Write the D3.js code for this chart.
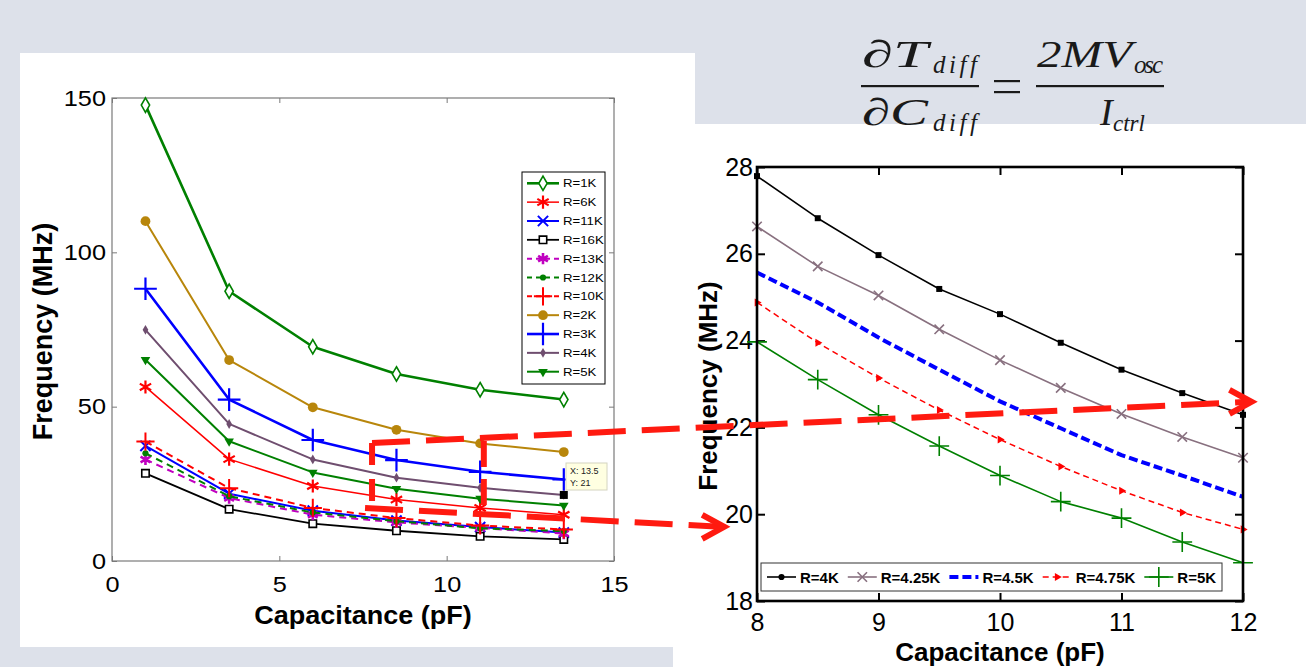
<!DOCTYPE html>
<html>
<head>
<meta charset="utf-8">
<script src="https://cdn.jsdelivr.net/npm/d3@7.9.0/dist/d3.min.js"></script>
<style>
  html, body { margin: 0; padding: 0; background: #dde1ea; }
  svg { display: block; font-family: "Liberation Sans", Arial, Helvetica, sans-serif; }
</style>
</head>
<body>
<svg id="fig" width="1306" height="667"></svg>
<script>
// === Data: left chart (frequency vs capacitance, wide range) ===
const capLeft = [1, 3.5, 6, 8.5, 11, 13.5];
const seriesLeft = ["R=1K", "R=6K", "R=11K", "R=16K", "R=13K", "R=12K", "R=10K", "R=2K", "R=3K", "R=4K", "R=5K"];
const fR1K  = [147.7, 87.4, 69.4, 60.6, 55.5, 52.3];
const fR6K  = [56.4, 33.0, 24.3, 19.9, 17.2, 15.0];
const fR11K = [37.3, 21.8, 16.3, 13.1, 11.0, 9.2];
const fR16K = [28.4, 16.8, 12.1, 9.8, 8.0, 7.0];
const fR13K = [32.9, 20.4, 15.0, 12.5, 10.7, 8.9];
const fR12K = [34.9, 21.0, 15.7, 12.9, 10.6, 9.7];
const fR10K = [38.7, 23.6, 17.2, 13.9, 11.5, 10.2];
const fR2K  = [110.1, 65.1, 49.8, 42.5, 38.1, 35.3];
const fR3K  = [88.2, 52.3, 39.2, 32.7, 28.9, 26.4];
const fR4K  = [74.9, 44.4, 32.9, 27.0, 23.7, 21.4];
const fR5K  = [65.2, 38.8, 28.7, 23.4, 20.2, 18.0];
const ticksLeftX = [0, 5, 10, 15];
const ticksLeftY = [0, 50, 100, 150];

// === Data: right chart (zoomed region) ===
const capRight = [8, 8.5, 9, 9.5, 10, 10.5, 11, 11.5, 12];
const seriesRight = ["R=4K", "R=4.25K", "R=4.5K", "R=4.75K", "R=5K"];
const gR4K   = [27.79, 26.82, 25.97, 25.19, 24.61, 23.95, 23.33, 22.79, 22.29];
const gR425K = [26.63, 25.71, 25.04, 24.26, 23.55, 22.91, 22.31, 21.78, 21.30];
const gR45K  = [25.57, 24.88, 24.07, 23.33, 22.60, 21.98, 21.36, 20.89, 20.40];
const gR475K = [24.88, 23.95, 23.14, 22.40, 21.72, 21.10, 20.54, 20.04, 19.65];
const gR5K   = [23.97, 23.10, 22.29, 21.57, 20.89, 20.29, 19.91, 19.36, 18.88];
const ticksRightX = [8, 9, 10, 11, 12];
const ticksRightY = [18, 20, 22, 24, 26, 28];

// data tip shown on the left chart
const tipX = 13.5, tipY = 21;

// zoom box on the left chart, arrow tips in right-chart units
const zoomBox = { c0: 7.77, c1: 11.11, f0: 17.2, f1: 38.2 };
const upperTip = { c: 12.07, f: 22.59 };
const lowerTip = { c: 7.73, f: 19.71 };

const valuesLeft = {
  "R=1K": fR1K, "R=6K": fR6K, "R=11K": fR11K, "R=16K": fR16K, "R=13K": fR13K, "R=12K": fR12K,
  "R=10K": fR10K, "R=2K": fR2K, "R=3K": fR3K, "R=4K": fR4K, "R=5K": fR5K
};
const valuesRight = { "R=4K": gR4K, "R=4.25K": gR425K, "R=4.5K": gR45K, "R=4.75K": gR475K, "R=5K": gR5K };

// === Styles ===
const styleLeft = {
  "R=1K":  { color: "#008000", w: 2.6, sym: d3.symbolDiamond, size: 60, fill: "#ffffff", sw: 1.6 },
  "R=6K":  { color: "#ff0000", w: 1.5, sym: d3.symbolAsterisk, size: 120, sw: 2.2 },
  "R=11K": { color: "#0000ff", w: 2, sym: d3.symbolX, size: 70, sw: 2 },
  "R=16K": { color: "#000000", w: 1.8, sym: d3.symbolSquare, size: 55, fill: "#ffffff", sw: 1.6 },
  "R=13K": { color: "#c000c0", w: 2, dash: "7,5", sym: d3.symbolAsterisk, size: 90, sw: 2.6 },
  "R=12K": { color: "#008000", w: 2, dash: "7,5", sym: d3.symbolCircle, size: 30, fill: "#008000", sw: 0 },
  "R=10K": { color: "#ff0000", w: 2, dash: "7,5", sym: d3.symbolPlus, size: 110, sw: 2 },
  "R=2K":  { color: "#b8860b", w: 2, sym: d3.symbolCircle, size: 75, fill: "#b8860b", sw: 0 },
  "R=3K":  { color: "#0000ff", w: 2.6, sym: d3.symbolPlus, size: 170, sw: 2.2 },
  "R=4K":  { color: "#6f4e6f", w: 2, sym: d3.symbolDiamond, size: 28, fill: "#6f4e6f", sw: 0 },
  "R=5K":  { color: "#008000", w: 2, sym: d3.symbolTriangle, rot: 180, size: 40, fill: "#008000", sw: 0 }
};
const styleRight = {
  "R=4K":    { color: "#000000", w: 1.6, sym: d3.symbolSquare, size: 36, fill: "#000000", sw: 0 },
  "R=4.25K": { color: "#88707f", w: 1.6, sym: d3.symbolX, size: 60, sw: 1.6 },
  "R=4.5K":  { color: "#0000ff", w: 4, dash: "9,4" },
  "R=4.75K": { color: "#ff0000", w: 1.5, dash: "6,4", sym: d3.symbolTriangle, rot: 90, size: 28, fill: "#ff0000", sw: 0 },
  "R=5K":    { color: "#008000", w: 1.6, sym: d3.symbolPlus, size: 130, sw: 1.6 }
};

const svg = d3.select("#fig");

// === Background panels ===
svg.append("rect").attr("width", 1306).attr("height", 667).attr("fill", "#dde1ea");
svg.append("rect").attr("x", 20).attr("y", 53).attr("width", 675).attr("height", 594).attr("fill", "#ffffff");
svg.append("rect").attr("x", 673).attr("y", 124).attr("width", 633).attr("height", 543).attr("fill", "#ffffff");

// stretch text horizontally (the left figure was scaled wider)
function stretch(sel, k) {
  sel.each(function() {
    const len = this.getComputedTextLength();
    d3.select(this).attr("textLength", len * k).attr("lengthAdjust", "spacingAndGlyphs");
  });
}

function marker(g, st, x, y) {
  if (!st.sym) return;
  g.append("path")
    .attr("d", d3.symbol().type(st.sym).size(st.size)())
    .attr("transform", `translate(${x},${y})` + (st.rot ? ` rotate(${st.rot})` : ""))
    .attr("fill", st.fill || "none")
    .attr("stroke", st.sw ? st.color : "none")
    .attr("stroke-width", st.sw || 0);
}

// === Left chart ===
const L = { x0: 112, x1: 614, y0: 98, y1: 561 };
const xL = d3.scaleLinear().domain([0, 15]).range([L.x0, L.x1]);
const yL = d3.scaleLinear().domain([0, 150]).range([L.y1, L.y0]);
const left = svg.append("g");

left.append("g").attr("transform", `translate(0,${L.y1})`)
  .call(d3.axisBottom(xL).tickValues(ticksLeftX).tickSize(-5).tickPadding(15));
left.append("g").attr("transform", `translate(${L.x0},0)`)
  .call(d3.axisLeft(yL).tickValues(ticksLeftY).tickSize(-5).tickPadding(6));
left.append("g").attr("transform", `translate(0,${L.y0})`)
  .call(d3.axisTop(xL).tickValues(ticksLeftX).tickSize(-5).tickFormat(""));
left.append("g").attr("transform", `translate(${L.x1},0)`)
  .call(d3.axisRight(yL).tickValues(ticksLeftY).tickSize(-5).tickFormat(""));
left.selectAll(".domain").remove();
left.selectAll(".tick line").attr("stroke", "#7a7a7a");
left.selectAll(".tick text").attr("font-size", 22).attr("fill", "#000");
stretch(left.selectAll(".tick text"), 1.15);
left.append("rect").attr("x", L.x0).attr("y", L.y0).attr("width", L.x1 - L.x0).attr("height", L.y1 - L.y0)
  .attr("fill", "none").attr("stroke", "#7a7a7a").attr("stroke-width", 1.2);

const lineL = d3.line().x((d, i) => xL(capLeft[i])).y(d => yL(d));
seriesLeft.forEach(name => {
  const st = styleLeft[name];
  const vals = valuesLeft[name];
  const g = left.append("g");
  g.append("path").attr("d", lineL(vals)).attr("fill", "none")
    .attr("stroke", st.color).attr("stroke-width", st.w)
    .attr("stroke-dasharray", st.dash || null).attr("stroke-linejoin", "round");
  vals.forEach((v, i) => marker(g, st, xL(capLeft[i]), yL(v)));
});

left.append("text").attr("x", (L.x0 + L.x1) / 2).attr("y", 624).attr("text-anchor", "middle")
  .attr("font-size", 25).attr("font-weight", "bold").text("Capacitance (pF)")
  .call(s => stretch(s, 1.08));
left.append("text").attr("transform", `translate(52,${(L.y0 + L.y1) / 2 + 2}) rotate(-90)`)
  .attr("text-anchor", "middle").attr("font-size", 27).attr("font-weight", "bold")
  .text("Frequency (MHz)");

// left legend
const legL = left.append("g");
legL.append("rect").attr("x", 522).attr("y", 172).attr("width", 83).attr("height", 212)
  .attr("fill", "#ffffff").attr("stroke", "#000").attr("stroke-width", 1);
seriesLeft.forEach((name, i) => {
  const st = styleLeft[name];
  const y = 183.3 + i * 18.84;
  legL.append("line").attr("x1", 527).attr("x2", 559).attr("y1", y).attr("y2", y)
    .attr("stroke", st.color).attr("stroke-width", st.w).attr("stroke-dasharray", st.dash ? "5,4" : null);
  marker(legL, st, 543, y);
  legL.append("text").attr("x", 563).attr("y", y + 4).attr("font-size", 11).text(name)
    .call(s => stretch(s, 1.2));
});

// data tip
const tx = xL(tipX), ty = yL(valuesLeft["R=4K"][5]);
left.append("rect").attr("x", tx - 4).attr("y", ty - 4).attr("width", 8).attr("height", 8).attr("fill", "#000");
left.append("rect").attr("x", 566).attr("y", 463).attr("width", 41).attr("height", 27)
  .attr("fill", "#ffffe1").attr("stroke", "#d4d4c0");
left.append("text").attr("x", 570).attr("y", 474).attr("font-size", 9).attr("fill", "#222").text(`X: ${tipX}`);
left.append("text").attr("x", 570).attr("y", 486).attr("font-size", 9).attr("fill", "#222").text(`Y: ${tipY}`);

// === Right chart ===
const R = { x0: 757, x1: 1243, y0: 167, y1: 601 };
const xR = d3.scaleLinear().domain([8, 12]).range([R.x0, R.x1]);
const yR = d3.scaleLinear().domain([18, 28]).range([R.y1, R.y0]);
const right = svg.append("g");

right.append("g").attr("transform", `translate(0,${R.y1})`)
  .call(d3.axisBottom(xR).tickValues(ticksRightX).tickFormat(d3.format("d")).tickSize(-8).tickPadding(12));
right.append("g").attr("transform", `translate(${R.x0},0)`)
  .call(d3.axisLeft(yR).tickValues(ticksRightY).tickFormat(d3.format("d")).tickSize(-8).tickPadding(4));
right.append("g").attr("transform", `translate(0,${R.y0})`)
  .call(d3.axisTop(xR).tickValues(ticksRightX).tickSize(-8).tickFormat(""));
right.append("g").attr("transform", `translate(${R.x1},0)`)
  .call(d3.axisRight(yR).tickValues(ticksRightY).tickSize(-8).tickFormat(""));
right.selectAll(".domain").remove();
right.selectAll(".tick line").attr("stroke", "#000").attr("stroke-width", 2);
right.selectAll(".tick text").attr("font-size", 25).attr("fill", "#000");

const lineR = d3.line().x((d, i) => xR(capRight[i])).y(d => yR(d));
seriesRight.forEach(name => {
  const st = styleRight[name];
  const vals = valuesRight[name];
  const g = right.append("g");
  g.append("path").attr("d", lineR(vals)).attr("fill", "none")
    .attr("stroke", st.color).attr("stroke-width", st.w)
    .attr("stroke-dasharray", st.dash || null).attr("stroke-linejoin", "round");
  vals.forEach((v, i) => marker(g, st, xR(capRight[i]), yR(v)));
});

right.append("rect").attr("x", R.x0).attr("y", R.y0).attr("width", R.x1 - R.x0).attr("height", R.y1 - R.y0)
  .attr("fill", "none").attr("stroke", "#000").attr("stroke-width", 2.6);

// right legend
const legR = right.append("g");
legR.append("rect").attr("x", 761).attr("y", 563).attr("width", 461).attr("height", 28)
  .attr("fill", "#ffffff").attr("stroke", "#333").attr("stroke-width", 1);
let lx = 767;
seriesRight.forEach(name => {
  const st = styleRight[name];
  const y = 577;
  legR.append("line").attr("x1", lx).attr("x2", lx + 29).attr("y1", y).attr("y2", y)
    .attr("stroke", st.color).attr("stroke-width", st.w).attr("stroke-dasharray", st.dash || null);
  const ms = name === "R=4K" ? { ...st, sym: d3.symbolCircle, size: 30 } : st;
  marker(legR, ms, lx + 14.5, y);
  const t = legR.append("text").attr("x", lx + 33).attr("y", y + 5.5).attr("font-size", 15)
    .attr("font-weight", "bold").text(name);
  lx += 33 + t.node().getComputedTextLength() + 9;
});

right.append("text").attr("x", (R.x0 + R.x1) / 2).attr("y", 661).attr("text-anchor", "middle")
  .attr("font-size", 26).attr("font-weight", "bold").text("Capacitance (pF)");
right.append("text").attr("transform", `translate(717,${(R.y0 + R.y1) / 2 + 2}) rotate(-90)`)
  .attr("text-anchor", "middle").attr("font-size", 26).attr("font-weight", "bold")
  .text("Frequency (MHz)");

// === Red dashed zoom annotation ===
const ann = svg.append("g").attr("stroke", "#ff1a10").attr("fill", "none").attr("stroke-width", 6);
const dash = "38,16";
const pUp0 = [xL(zoomBox.c0), yL(zoomBox.f1)], pUp1 = [xR(upperTip.c) - 4, yR(upperTip.f)];
const pLo0 = [xL(zoomBox.c0) - 7, yL(zoomBox.f0)], pLo1 = [xR(lowerTip.c) - 4, yR(lowerTip.f)];
ann.append("line").attr("x1", pUp0[0]).attr("y1", pUp0[1]).attr("x2", pUp1[0]).attr("y2", pUp1[1]).attr("stroke-dasharray", dash);
ann.append("line").attr("x1", pLo0[0]).attr("y1", pLo0[1]).attr("x2", pLo1[0]).attr("y2", pLo1[1]).attr("stroke-dasharray", dash);
ann.append("line").attr("x1", xL(zoomBox.c0)).attr("y1", yL(zoomBox.f1)).attr("x2", xL(zoomBox.c0)).attr("y2", yL(zoomBox.f0)).attr("stroke-dasharray", "22,14");
ann.append("line").attr("x1", xL(zoomBox.c1)).attr("y1", yL(zoomBox.f1) - 2).attr("x2", xL(zoomBox.c1)).attr("y2", yL(zoomBox.f0) + 2).attr("stroke-dasharray", "26,12");
[upperTip, lowerTip].forEach(t => {
  const x = xR(t.c), y = yR(t.f);
  ann.append("path").attr("d", `M${x - 22},${y - 12} L${x},${y} L${x - 22},${y + 12}`)
    .attr("stroke-linejoin", "miter").attr("stroke-width", 6);
});

// === Formula ===
const eq = svg.append("g").attr("fill", "#1a1a1a")
  .style("font-family", "'Liberation Serif', 'DejaVu Serif', serif").style("font-style", "italic");
const eqParts = [
  { t: "\u2202T", x: 862, y: 67, fs: 38, w: 66, adj: "spacingAndGlyphs" },
  { t: "diff", x: 933, y: 73, fs: 25, w: 44, adj: "spacing" },
  { t: "\u2202C", x: 862, y: 125, fs: 38, w: 66, adj: "spacingAndGlyphs" },
  { t: "diff", x: 933, y: 131, fs: 25, w: 44, adj: "spacing" },
  { t: "2MV", x: 1037, y: 67, fs: 38, w: 95, adj: "spacingAndGlyphs" },
  { t: "osc", x: 1134, y: 73, fs: 25, w: 29, adj: "spacing" },
  { t: "I", x: 1100, y: 125, fs: 38 },
  { t: "ctrl", x: 1113, y: 131, fs: 23 }
];
eqParts.forEach(p => {
  const t = eq.append("text").attr("x", p.x).attr("y", p.y).attr("font-size", p.fs).text(p.t);
  if (p.w) t.attr("textLength", p.w).attr("lengthAdjust", p.adj);
});
eq.append("rect").attr("x", 861).attr("y", 85).attr("width", 118).attr("height", 2.2);
eq.append("rect").attr("x", 1036).attr("y", 85).attr("width", 128).attr("height", 2.2);
eq.append("rect").attr("x", 994).attr("y", 80).attr("width", 26).attr("height", 2.2);
eq.append("rect").attr("x", 994).attr("y", 91).attr("width", 26).attr("height", 2.2);
</script>
</body>
</html>
